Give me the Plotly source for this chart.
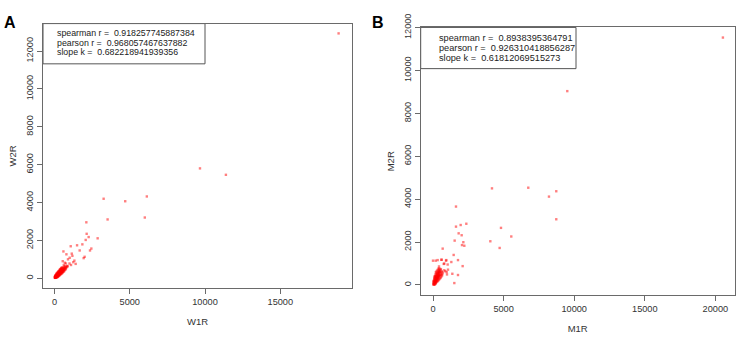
import plotly.graph_objects as go

# ---------------- Panel A data (W1R vs W2R) ----------------
w1r = [18870, 9665, 11386, 3266, 4700, 6135, 3530, 6000, 2118, 2140, 2272, 2869, 2075,
       2450, 2361, 1502, 1854, 1081, 2006, 1940, 596, 795, 1192, 1013, 1324, 1410, 1675,
       1150, 900, 1250, 760, 1000, 880, 690, 620, 1100, 550,
       30, 45, 60, 80, 95, 110, 120, 140, 150, 165, 180, 190, 200, 210, 225, 240, 250, 260,
       275, 290, 300, 310, 320, 335, 350, 360, 375, 390, 400, 415, 430, 440, 455, 470, 480,
       495, 510, 520, 540, 560, 580, 600, 620, 640, 660, 700, 720, 750, 780, 820, 850,
       100, 130, 160, 200, 230, 260, 300, 340, 380, 420, 460, 500,
       150, 200, 250, 300, 350, 400, 450, 500, 550, 600, 650,
       60, 90, 70, 40, 55, 85, 130, 170, 220, 270, 320, 370, 420, 470, 520, 570, 620, 680,
       180, 230, 280, 330, 380, 430, 480, 530, 580, 640, 700, 760,
       20, 35, 50, 75, 110, 140, 190, 240, 290, 350, 410, 470]
w2r = [12935, 5804, 5465, 4200, 4068, 4321, 3107, 3208, 2955, 2348, 2176, 2110, 2024,
       1569, 1468, 1741, 1791, 1690, 1133, 1063, 1417, 1265, 1184, 1083, 931, 759, 1468,
       1300, 1000, 850, 780, 780, 650, 820, 700, 700, 900,
       20, 60, 40, 70, 55, 90, 60, 110, 80, 130, 100, 150, 120, 170, 140, 190, 160, 210,
       180, 230, 200, 250, 220, 270, 240, 300, 260, 320, 280, 340, 300, 360, 320, 390, 340,
       410, 370, 440, 400, 470, 430, 500, 460, 540, 490, 560, 520, 600, 560, 640, 600,
       150, 200, 230, 260, 300, 340, 380, 420, 460, 500, 540, 580,
       40, 70, 100, 130, 160, 200, 230, 260, 300, 340, 380,
       100, 130, 30, 40, 25, 45, 120, 170, 200, 250, 300, 350, 400, 450, 500, 540, 590, 640,
       60, 90, 150, 190, 230, 270, 310, 350, 390, 420, 450, 480,
       60, 90, 120, 160, 190, 250, 290, 330, 370, 450, 480, 520]

# ---------------- Panel B data (M1R vs M2R) ----------------
m1r = [20532, 9510, 4177, 6748, 8213, 8730, 8730, 1628, 1628, 1959, 2360, 1817, 2030,
       1534, 2148, 2053, 2218, 4060, 4815, 5545, 4720, 1463, 1770, 2100, 1510, 686, 0,
       330, 590, 944, 1298, 802, 1038, 1062, 873, 425, 1770, 1369, 991,
       920, 616, 190, 758, 446, 800, 970,
       20, 40, 60, 80, 100, 120, 140, 160, 180, 200, 220, 240, 260, 280, 300, 320, 340,
       360, 380, 400, 420, 440, 460, 480, 500,
       50, 90, 130, 170, 210, 250, 290, 330, 370, 410,
       100, 150, 200, 250, 300, 350, 400, 450, 500, 550, 600, 650,
       30, 70, 110, 150, 190, 230, 270, 310, 350, 390, 430, 470, 520, 560, 600, 650, 700,
       120, 180, 240, 60, 120, 180, 90, 140, 200, 260, 320, 380, 440, 540, 580, 620,
       300, 340, 380, 420, 460, 150, 190, 230, 270, 310]
m2r = [11538, 9040, 4505, 4536, 4121, 4371, 3064, 3657, 2721, 2796, 2855, 2408, 2319,
       2069, 1994, 1860, 1829, 2038, 2663, 2261, 1726, 1400, 1160, 879, 89, 1695, 1133,
       1160, 1177, 1160, 1070, 999, 954, 714, 642, 865, 464, 522, 491,
       1133, 1177, 1133, 981, 776, 687, 598,
       30, 80, 50, 120, 90, 160, 110, 200, 140, 250, 180, 300, 220, 350, 260, 400, 300,
       450, 340, 500, 380, 550, 420, 600, 460,
       200, 260, 320, 380, 430, 480, 530, 580, 620, 660,
       40, 70, 100, 130, 160, 190, 230, 270, 310, 350, 400, 450,
       150, 180, 230, 280, 330, 380, 420, 470, 520, 560, 610, 650, 700, 740, 600, 520, 580,
       400, 500, 560, 10, 20, 50, 340, 420, 600, 650, 700, 760, 720, 560, 480, 650,
       330, 370, 410, 440, 480, 150, 190, 230, 270, 310]

legend_a = ["spearman r =  0.918257745887384",
            "pearson r =  0.968057467637882",
            "slope k =  0.682218941939356"]
legend_b = ["spearman r =  0.8938395364791",
            "pearson r =  0.926310418856287",
            "slope k =  0.61812069515273"]

x_ticks_a = [0, 5000, 10000, 15000]
x_ticks_b = [0, 5000, 10000, 15000, 20000]
y_ticks = [0, 2000, 4000, 6000, 8000, 10000, 12000]

FONT = "Liberation Sans, Arial, sans-serif"
W, H = 737, 337
marker = dict(color="rgba(255,0,0,0.5)", size=2.4, symbol="square", line=dict(width=0))

fig = go.Figure()
fig.add_trace(go.Scatter(x=w1r, y=w2r, mode="markers", marker=marker, xaxis="x", yaxis="y",
                         showlegend=False, hoverinfo="skip", cliponaxis=False))
fig.add_trace(go.Scatter(x=m1r, y=m2r, mode="markers", marker=marker, xaxis="x2", yaxis="y2",
                         showlegend=False, hoverinfo="skip", cliponaxis=False))

axis_common = dict(showline=True, mirror=True, linecolor="#6a6a6a", linewidth=1,
                   ticks="outside", ticklen=5, tickcolor="#6a6a6a", tickwidth=1,
                   showgrid=False, zeroline=False, ticklabeloverflow="allow",
                   tickfont=dict(family=FONT, size=9.2, color="#333333"),
                   title_font=dict(family=FONT, size=9.5, color="#333333"))


def tick_text(vals):
    return [str(v) for v in vals]


fig.update_layout(
    width=W, height=H, margin=dict(l=0, r=0, t=0, b=0),
    paper_bgcolor="white", plot_bgcolor="white",
    xaxis=dict(domain=[43 / W, 352 / W], range=[-760, 19760], tickvals=x_ticks_a,
               ticktext=tick_text(x_ticks_a),
               anchor="y", title=dict(text="W1R", standoff=12), **axis_common),
    yaxis=dict(domain=[(H - 286) / H, (H - 10) / H], range=[-521, 13453], tickvals=y_ticks,
               ticktext=tick_text(y_ticks),
               tickangle=-90, anchor="x", title=dict(text="W2R", standoff=6), **axis_common),
    xaxis2=dict(domain=[420.7 / W, 734.7 / W], range=[-871, 21367], tickvals=x_ticks_b,
                ticktext=tick_text(x_ticks_b),
                anchor="y2", title=dict(text="M1R", standoff=12), **axis_common),
    yaxis2=dict(domain=[(H - 293.3) / H, (H - 14) / H], range=[-473, 12011], tickvals=y_ticks,
                ticktext=tick_text(y_ticks),
                tickangle=-90, anchor="x2", title=dict(text="M2R", standoff=6), **axis_common),
)

# legend boxes
fig.add_shape(type="rect", xref="x domain", yref="y domain", x0=0, x1=(205 - 43) / 309,
              y0=1 - (52 - 10) / 276, y1=1, line=dict(color="#555555", width=1),
              fillcolor="white", layer="below")
fig.add_shape(type="rect", xref="x2 domain", yref="y2 domain", x0=0, x1=(576 - 420.7) / 314,
              y0=1 - (57 - 14) / 279.3, y1=1, line=dict(color="#555555", width=1),
              fillcolor="white", layer="below")

for i, t in enumerate(legend_a):
    fig.add_annotation(text=t, xref="paper", yref="paper", x=55 / W, y=(H - (20 + 10 * i)) / H,
                       xanchor="left", yanchor="middle", showarrow=False,
                       font=dict(family=FONT, size=8.8, color="#222222"))
for i, t in enumerate(legend_b):
    fig.add_annotation(text=t, xref="paper", yref="paper", x=437 / W, y=(H - (25 + 10.5 * i)) / H,
                       xanchor="left", yanchor="middle", showarrow=False,
                       font=dict(family=FONT, size=9.2, color="#222222"))

# panel letters
fig.add_annotation(text="<b>A</b>", xref="paper", yref="paper", x=10 / W, y=(H - 9) / H,
                   xanchor="center", yanchor="middle", showarrow=False,
                   font=dict(family=FONT, size=16, color="black"))
fig.add_annotation(text="<b>B</b>", xref="paper", yref="paper", x=378 / W, y=(H - 9) / H,
                   xanchor="center", yanchor="middle", showarrow=False,
                   font=dict(family=FONT, size=16, color="black"))

fig.write_html("out.html", config={"displayModeBar": False},
               post_script="document.body.style.margin='0';document.body.style.overflow='hidden';")
